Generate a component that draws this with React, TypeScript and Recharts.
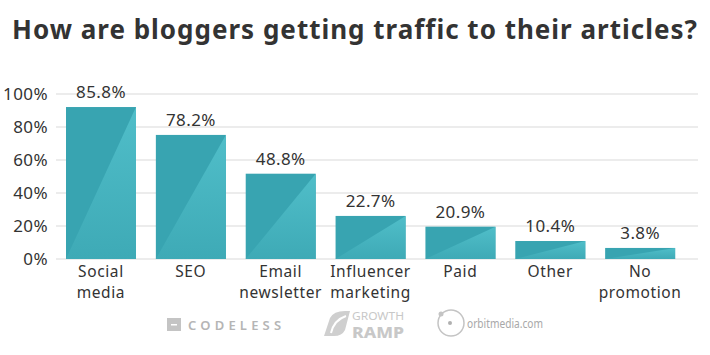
import { BarChart, Bar, XAxis, YAxis, CartesianGrid, LabelList } from 'recharts';

// Traffic sources reported by bloggers
const categories = ['Social media', 'SEO', 'Email newsletter', 'Influencer marketing', 'Paid', 'Other', 'No promotion'];
// bar heights as drawn in the picture (%)
const barHeights = [92.1, 75.2, 51.7, 26.1, 19.6, 10.9, 6.7];
// printed labels
const valueLabels = ['85.8%', '78.2%', '48.8%', '22.7%', '20.9%', '10.4%', '3.8%'];
const yTicks = [0, 20, 40, 60, 80, 100];

const data = categories.map((name, i) => ({ name, value: barHeights[i], label: valueLabels[i] }));

const FONT = '"Noto Sans", sans-serif';
const TEXT = '#333333';

function BarShape(props: any) {
  const { x, y, width, height } = props;
  if (!height || height <= 0) return null;
  return (
    <g>
      <rect x={x} y={y} width={width} height={height} fill="#38a4b1" />
      <polygon
        points={`${x},${y + height} ${x + width},${y} ${x + width},${y + height}`}
        fill="url(#lightTri)"
      />
    </g>
  );
}

// two-line category label, one <text> per line
function XTick(props: any) {
  const { x, y, payload } = props;
  const words: string[] = String(payload.value).split(' ');
  return (
    <g>
      {words.map((w, i) => (
        <text
          key={i}
          x={x}
          y={y + 18 + i * 21}
          textAnchor="middle"
          fill={TEXT}
          fontSize={15.5}
          fontFamily={FONT}
          letterSpacing={0.6}
        >
          {w}
        </text>
      ))}
    </g>
  );
}

function Logos() {
  return (
    <svg width={710} height={355} style={{ position: 'absolute', left: 0, top: 0, pointerEvents: 'none' }}>
      {/* codeless */}
      <rect x={167} y={318} width={14} height={13} fill="#c4c4c4" />
      <rect x={171} y={324} width={6} height={1.5} fill="#fff" />
      <text x={188} y={330} fontFamily={FONT} fontSize={13} fill="#b5b5b5" letterSpacing={4.2} fontWeight={600}>
        CODELESS
      </text>
      {/* growth ramp */}
      <path d="M324 336 L330 318 Q334 310 348 311 L350 311 L345 330 Q342 336 334 336 Z" fill="#cfcfcf" />
      <path d="M331 333 Q334 320 346 316" stroke="#fff" strokeWidth={2} fill="none" />
      <text x={352} y={320} fontFamily={FONT} fontSize={10} fill="#c8c8c8" textLength={52} lengthAdjust="spacingAndGlyphs">
        GROWTH
      </text>
      <text x={352} y={338} fontFamily={FONT} fontSize={15} fontWeight={800} fill="#c8c8c8" textLength={52} lengthAdjust="spacingAndGlyphs">
        RAMP
      </text>
      {/* orbit media */}
      <circle cx={451} cy={323} r={13} fill="none" stroke="#c4c4c4" strokeWidth={1.5} />
      <circle cx={450} cy={323} r={2} fill="#b0b0b0" />
      <circle cx={441} cy={314} r={2.5} fill="#c4c4c4" />
      <text x={467} y={328} fontFamily={FONT} fontSize={13} fill="#a8a8a8" textLength={76} lengthAdjust="spacingAndGlyphs">
        orbitmedia.com
      </text>
    </svg>
  );
}

export default function App() {
  return (
    <div style={{ position: 'absolute', left: 0, top: 0, width: 710, height: 355, background: '#fff', overflow: 'hidden' }}>
      <div
        style={{
          position: 'absolute',
          left: 0,
          top: 12,
          width: 710,
          textAlign: 'center',
          fontFamily: FONT,
          fontWeight: 700,
          fontSize: 26,
          letterSpacing: 1,
          color: TEXT,
          lineHeight: '34px',
        }}
      >
        How are bloggers getting traffic to their articles?
      </div>
      <div style={{ position: 'absolute', left: 0, top: 0 }}>
        <BarChart width={710} height={310} data={data} margin={{ top: 94, right: 12, bottom: 0, left: 0 }}>
          <defs>
            <linearGradient id="lightTri" x1="0" y1="0" x2="0" y2="1">
              <stop offset="0%" stopColor="#50bec9" />
              <stop offset="100%" stopColor="#3eaab6" />
            </linearGradient>
          </defs>
          <CartesianGrid vertical={false} stroke="#d9d9d9" strokeWidth={1} />
          <XAxis
            dataKey="name"
            axisLine={false}
            tickLine={false}
            tickSize={0}
            tickMargin={0}
            height={51}
            interval={0}
            padding={{ left: 0, right: 13 }}
            tick={<XTick />}
          />
          <YAxis
            domain={[0, 100]}
            ticks={yTicks}
            width={56}
            axisLine={false}
            tickLine={false}
            tickSize={0}
            tickMargin={8}
            tickFormatter={(v: number) => `${v}%`}
            tick={{ fill: TEXT, fontSize: 17, fontFamily: FONT, letterSpacing: 0.4 }}
          />
          <Bar dataKey="value" barSize={70} isAnimationActive={false} shape={<BarShape />}>
            <LabelList
              dataKey="label"
              position="top"
              offset={9}
              fill={TEXT}
              fontSize={17}
              fontFamily={FONT}
              letterSpacing={0.4}
            />
          </Bar>
        </BarChart>
      </div>
      <Logos />
    </div>
  );
}
